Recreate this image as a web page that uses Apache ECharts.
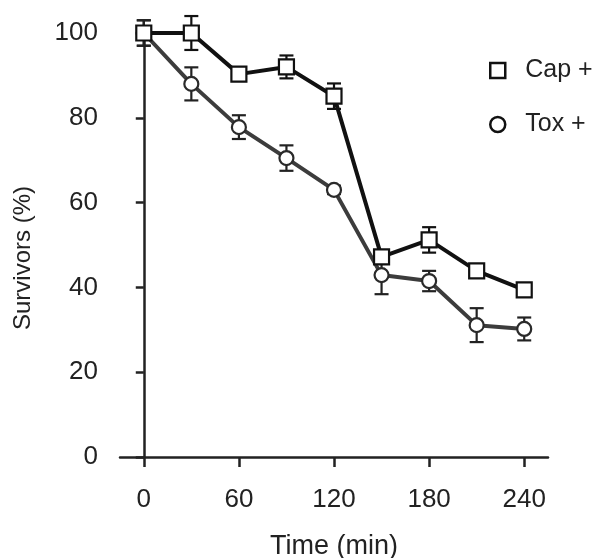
<!DOCTYPE html>
<html>
<head>
<meta charset="utf-8">
<script src="https://cdn.jsdelivr.net/npm/echarts@6/dist/echarts.min.js"></script>
<style>
html,body{margin:0;padding:0;background:#fff;}
#chart{width:595px;height:558px;}
</style>
</head>
<body>
<div id="chart"></div>
<script>
const times = [0, 30, 60, 90, 120, 150, 180, 210, 240];
const capValues = [100, 100, 90.3, 92, 85.1, 47.2, 51.2, 43.9, 39.4];
const capErrors = [3, 4, 1, 2.7, 3, 1.5, 3, 1, 1];
const toxValues = [100, 88, 77.8, 70.5, 63, 42.9, 41.5, 31.1, 30.2];
const toxErrors = [3, 3.9, 2.8, 3, 1, 4.5, 2.4, 4, 2.7];
const xTicks = [0, 60, 120, 180, 240];
const seriesNames = ['Cap +', 'Tox +'];

const FONT = 'Liberation Sans, Arial, sans-serif';
const TXT = '#222';

function pairs(vals) { return times.map((t, i) => [t, vals[i]]); }
function errData(vals, errs) { return times.map((t, i) => [t, vals[i] - errs[i], vals[i] + errs[i]]); }

function errRender(color) {
  return function (params, api) {
    const x = api.value(0);
    const lo = api.coord([x, api.value(1)]);
    const hi = api.coord([x, api.value(2)]);
    const hw = 7;
    const style = { stroke: color, lineWidth: 2.2, fill: null };
    return {
      type: 'group',
      children: [
        { type: 'line', shape: { x1: lo[0], y1: lo[1], x2: hi[0], y2: hi[1] }, style: style },
        { type: 'line', shape: { x1: lo[0] - hw, y1: lo[1], x2: lo[0] + hw, y2: lo[1] }, style: style },
        { type: 'line', shape: { x1: hi[0] - hw, y1: hi[1], x2: hi[0] + hw, y2: hi[1] }, style: style }
      ]
    };
  };
}

const chart = echarts.init(document.getElementById('chart'), null, { renderer: 'canvas' });
chart.setOption({
  backgroundColor: '#fff',
  animation: false,
  grid: { left: 120, right: 47, top: 33, bottom: 101, containLabel: false, outerBoundsMode: 'none' },
  legend: {
    orient: 'vertical',
    left: 484,
    top: 53,
    itemWidth: 15,
    itemHeight: 15,
    itemGap: 29,
    textStyle: { fontFamily: FONT, fontSize: 25, color: TXT, padding: [0, 0, 0, 15] },
    data: [
      { name: seriesNames[0], icon: 'rect', itemStyle: { color: '#fff', borderColor: '#111', borderWidth: 2.5 } },
      { name: seriesNames[1], icon: 'circle', itemStyle: { color: '#fff', borderColor: '#111', borderWidth: 2.5 } }
    ]
  },
  xAxis: {
    type: 'value',
    min: -15,
    max: 255,
    name: 'Time (min)',
    nameLocation: 'middle',
    nameGap: 76,
    nameTextStyle: { fontFamily: FONT, fontSize: 27, color: TXT },
    splitLine: { show: false },
    axisLine: { show: true, onZero: false, lineStyle: { color: '#222', width: 2.5 } },
    axisTick: { show: true, inside: false, length: 10, customValues: xTicks, lineStyle: { color: '#222', width: 2.5 } },
    axisLabel: { margin: 30, customValues: xTicks, fontFamily: FONT, fontSize: 26, color: TXT }
  },
  yAxis: {
    type: 'value',
    min: 0,
    max: 100,
    interval: 20,
    name: 'Survivors (%)',
    nameLocation: 'middle',
    nameGap: 85,
    nameTextStyle: { fontFamily: FONT, fontSize: 24, color: TXT, padding: [0, 26, 0, 0] },
    splitLine: { show: false },
    axisLine: { show: true, lineStyle: { color: '#222', width: 2.5 } },
    axisTick: { show: true, inside: false, length: 8, lineStyle: { color: '#222', width: 2.5 } },
    axisLabel: { margin: 22, fontFamily: FONT, fontSize: 26, color: TXT }
  },
  series: [
    {
      type: 'custom',
      name: 'capErr',
      renderItem: errRender('#111'),
      data: errData(capValues, capErrors),
      encode: { x: 0, y: [1, 2] },
      z: 1,
      silent: true
    },
    {
      type: 'custom',
      name: 'toxErr',
      renderItem: errRender('#222'),
      data: errData(toxValues, toxErrors),
      encode: { x: 0, y: [1, 2] },
      z: 1,
      silent: true
    },
    {
      type: 'line',
      name: seriesNames[1],
      data: pairs(toxValues),
      symbol: 'circle',
      symbolSize: 14,
      showAllSymbol: true,
      lineStyle: { color: '#3c3c3c', width: 4 },
      itemStyle: { color: '#fff', borderColor: '#2a2a2a', borderWidth: 2.2 },
      z: 3
    },
    {
      type: 'line',
      name: seriesNames[0],
      data: pairs(capValues),
      symbol: 'rect',
      symbolSize: 15,
      showAllSymbol: true,
      lineStyle: { color: '#111', width: 4 },
      itemStyle: { color: '#fff', borderColor: '#111', borderWidth: 2.2 },
      z: 4
    }
  ]
});
</script>
</body>
</html>
